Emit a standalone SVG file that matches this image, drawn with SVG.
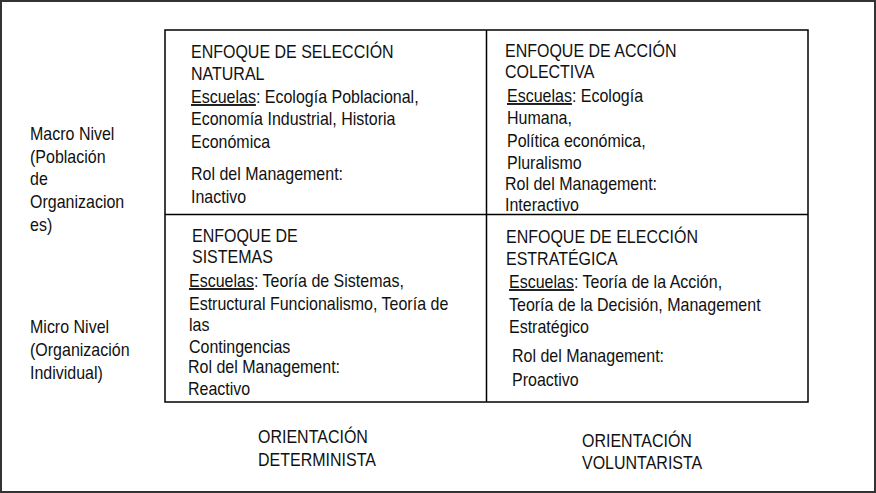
<svg xmlns="http://www.w3.org/2000/svg" width="876" height="493" viewBox="0 0 876 493">
<style>
text{font-family:"Liberation Sans",Arial,sans-serif;font-size:16px;fill:#111}
.u{text-decoration:underline}
.grid{fill:none;stroke:#000;stroke-width:1.5}
</style>
<rect x="0" y="0" width="876" height="493" fill="#fff"/>
<rect x="1" y="1" width="874" height="491" fill="none" stroke="#333" stroke-width="2"/>
<g id="connectors">
<rect class="grid" x="165" y="30" width="643" height="372"/>
<line class="grid" x1="486.5" y1="30" x2="486.5" y2="402"/>
<line class="grid" x1="165" y1="214.5" x2="808" y2="214.5"/>
</g>
<g id="cell-seleccion-natural">
<text transform="translate(191 57.5) scale(1 1.15)">ENFOQUE DE SELECCIÓN</text>
<text transform="translate(191 80) scale(1 1.15)">NATURAL</text>
<text transform="translate(191 103) scale(1 1.15)"><tspan class="u">Escuelas</tspan>: Ecología Poblacional,</text>
<text transform="translate(191 125) scale(1 1.15)">Economía Industrial, Historia</text>
<text transform="translate(191 148) scale(1 1.15)">Económica</text>
<text transform="translate(191 180) scale(1 1.15)">Rol del Management:</text>
<text transform="translate(191 203) scale(1 1.15)">Inactivo</text>
</g>
<g id="cell-accion-colectiva">
<text transform="translate(505 57) scale(1 1.15)">ENFOQUE DE ACCIÓN</text>
<text transform="translate(505 78) scale(1 1.15)">COLECTIVA</text>
<text transform="translate(507 102) scale(1 1.15)"><tspan class="u">Escuelas</tspan>: Ecología</text>
<text transform="translate(507 124) scale(1 1.15)">Humana,</text>
<text transform="translate(507 147) scale(1 1.15)">Política económica,</text>
<text transform="translate(507 169) scale(1 1.15)">Pluralismo</text>
<text transform="translate(505 190) scale(1 1.15)">Rol del Management:</text>
<text transform="translate(505 211) scale(1 1.15)">Interactivo</text>
</g>
<g id="cell-sistemas">
<text transform="translate(192 242) scale(1 1.15)">ENFOQUE DE</text>
<text transform="translate(192 263) scale(1 1.15)">SISTEMAS</text>
<text transform="translate(189 287) scale(1 1.15)"><tspan class="u">Escuelas</tspan>: Teoría de Sistemas,</text>
<text transform="translate(189 310) scale(1 1.15)">Estructural Funcionalismo,  Teoría de</text>
<text transform="translate(189 331) scale(1 1.15)">las</text>
<text transform="translate(189 353) scale(1 1.15)">Contingencias</text>
<text transform="translate(188 373) scale(1 1.15)">Rol del Management:</text>
<text transform="translate(188 395) scale(1 1.15)">Reactivo</text>
</g>
<g id="cell-eleccion-estrategica">
<text transform="translate(506 243) scale(1 1.15)">ENFOQUE DE ELECCIÓN</text>
<text transform="translate(506 265) scale(1 1.15)">ESTRATÉGICA</text>
<text transform="translate(509 288) scale(1 1.15)"><tspan class="u">Escuelas</tspan>: Teoría de la Acción,</text>
<text transform="translate(509 311) scale(1 1.15)">Teoría de la Decisión,  Management</text>
<text transform="translate(509 333) scale(1 1.15)">Estratégico</text>
<text transform="translate(512 362) scale(1 1.15)">Rol del Management:</text>
<text transform="translate(512 386) scale(1 1.15)">Proactivo</text>
</g>
<g id="label-macro">
<text transform="translate(30 140) scale(1 1.15)">Macro Nivel</text>
<text transform="translate(30 163) scale(1 1.15)">(Población</text>
<text transform="translate(30 185) scale(1 1.15)">de</text>
<text transform="translate(30 208) scale(1 1.15)">Organizacion</text>
<text transform="translate(30 231) scale(1 1.15)">es)</text>
</g>
<g id="label-micro">
<text transform="translate(30 333) scale(1 1.15)">Micro Nivel</text>
<text transform="translate(30 356) scale(1 1.15)">(Organización</text>
<text transform="translate(30 379) scale(1 1.15)">Individual)</text>
</g>
<g id="label-determinista">
<text transform="translate(258 443) scale(1 1.15)">ORIENTACIÓN</text>
<text transform="translate(258 466) scale(1 1.15)">DETERMINISTA</text>
</g>
<g id="label-voluntarista">
<text transform="translate(582 447) scale(1 1.15)">ORIENTACIÓN</text>
<text transform="translate(582 469) scale(1 1.15)">VOLUNTARISTA</text>
</g>
</svg>
